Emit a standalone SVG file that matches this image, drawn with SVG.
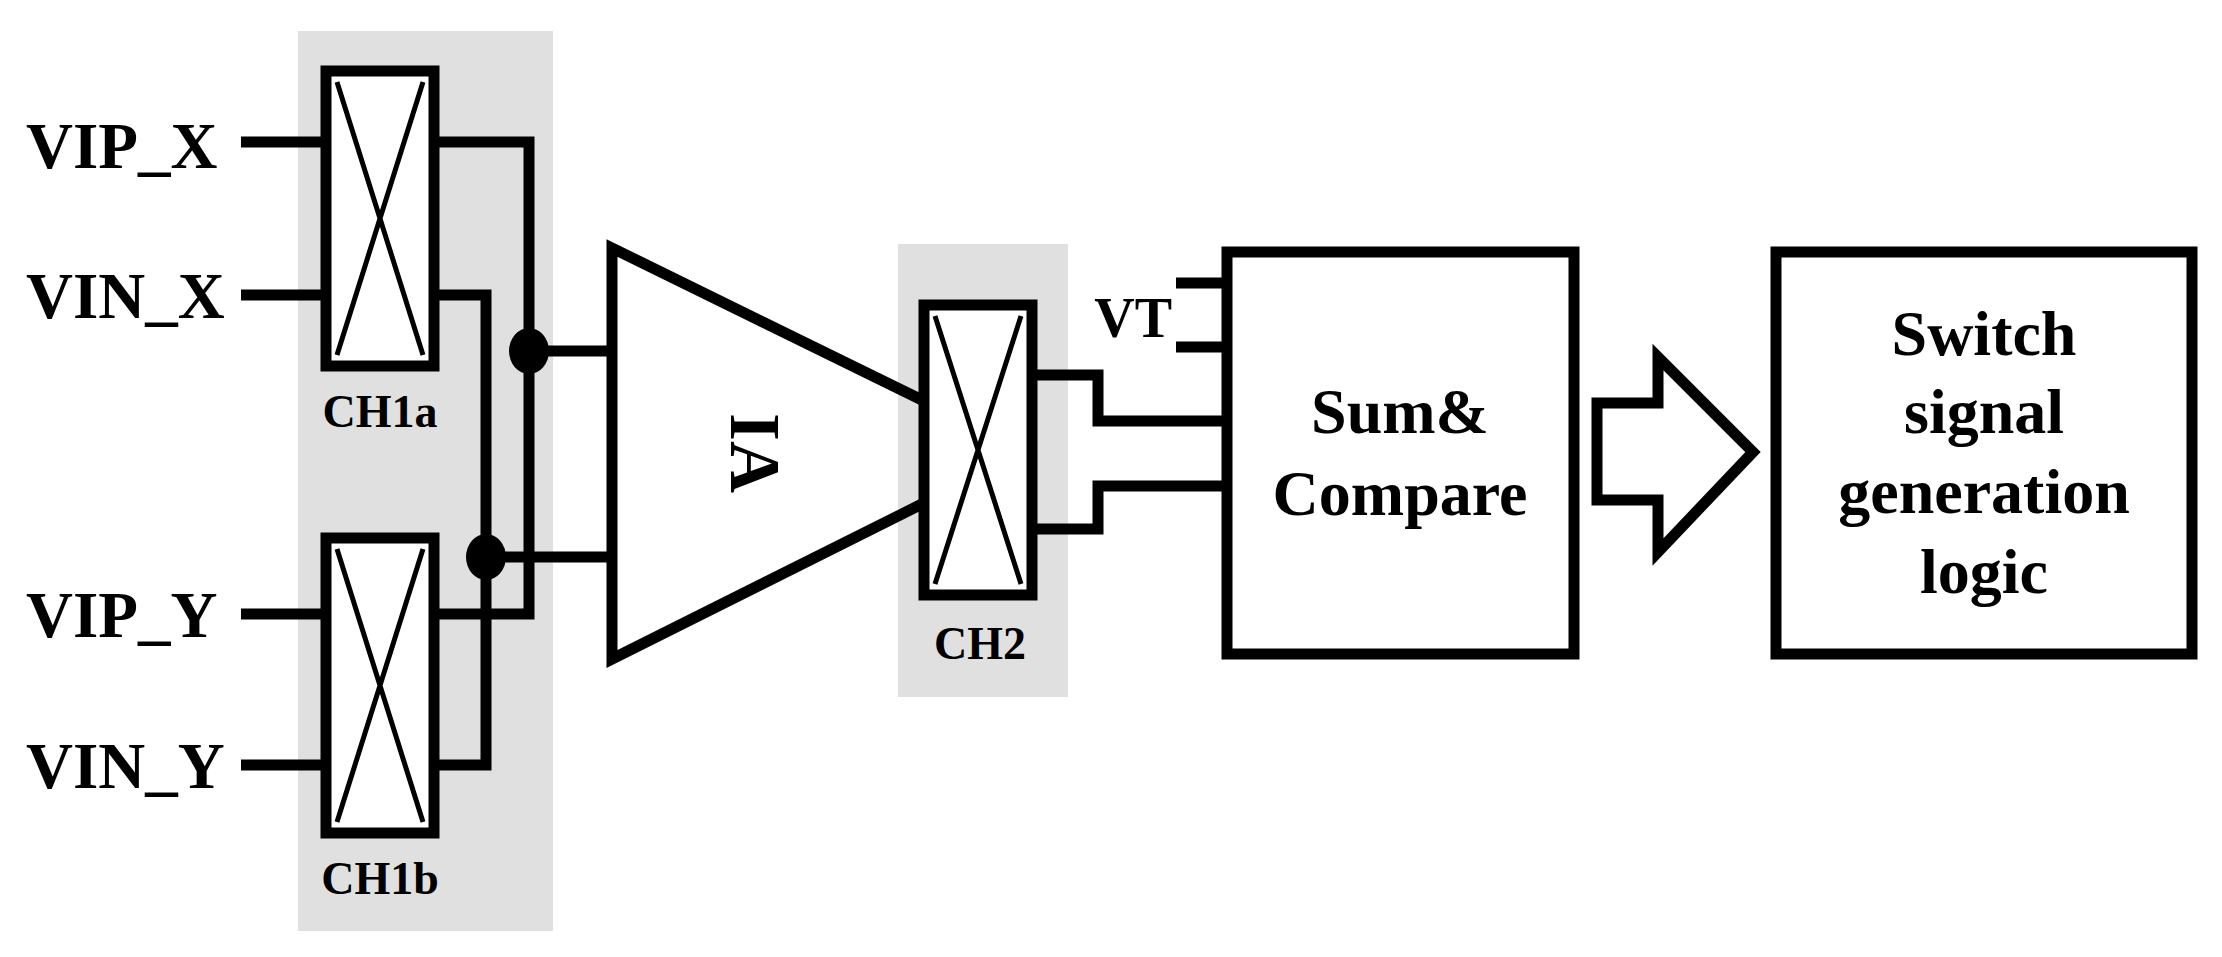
<svg xmlns="http://www.w3.org/2000/svg" width="2222" height="957" viewBox="0 0 2222 957">
<style>
.w{fill:none;stroke:#000;stroke-width:11;stroke-linejoin:miter}
.b{fill:#fff;stroke:#000;stroke-width:11}
.x{fill:none;stroke:#000;stroke-width:5}
.g{fill:#e0e0e0}
.t{font-family:"Liberation Serif",serif;font-weight:bold;fill:#000}
</style>
<rect width="2222" height="957" fill="#fff"/>
<rect class="g" x="298" y="31" width="255" height="900"/>
<rect class="g" x="898" y="244" width="170" height="453"/>
<g id="connectors">
<path class="w" d="M241 142H326M241 295H326M241 614H326M241 765H326"/>
<path class="w" d="M434 142H529V614H434"/>
<path class="w" d="M434 295H486V765H434"/>
<path class="w" d="M529 351H612M486 557H612"/>
<path class="w" d="M1032 375H1098V421H1227M1032 529H1098V486H1227"/>
<path class="w" d="M1176 283H1227M1176 347H1227"/>
<ellipse cx="529" cy="351" rx="20" ry="23"/>
<ellipse cx="486" cy="557" rx="20" ry="23"/>
</g>
<g id="labels" class="t" font-size="65">
<text x="26" y="168">VIP_X</text>
<text x="26" y="318">VIN_X</text>
<text x="26" y="637">VIP_Y</text>
<text x="26" y="788">VIN_Y</text>
</g>
<g id="CH1a"><rect class="b" x="326" y="71" width="108" height="295"/><path class="x" d="M337 82L423 355M423 82L337 355"/><text class="t" x="380" y="427" font-size="46" text-anchor="middle">CH1a</text></g>
<g id="CH1b"><rect class="b" x="326" y="538" width="108" height="295"/><path class="x" d="M337 549L423 822M423 549L337 822"/><text class="t" x="380" y="894" font-size="46" text-anchor="middle">CH1b</text></g>
<g id="IA"><path class="w" d="M924 401L612 248V659L924 503"/><text class="t" font-size="72" text-anchor="middle" transform="translate(731,453) rotate(90)">IA</text></g>
<g id="CH2"><rect class="b" x="924" y="305" width="108" height="290"/><path class="x" d="M935 316L1021 584M1021 316L935 584"/><text class="t" x="980" y="659" font-size="46" text-anchor="middle">CH2</text></g>
<g id="VT"><text class="t" x="1172" y="337" font-size="56" text-anchor="end">VT</text></g>
<g id="sum"><rect class="b" x="1227" y="252" width="347" height="402"/><text class="t" font-size="64" text-anchor="middle"><tspan x="1400" y="433">Sum&amp;</tspan><tspan x="1400" y="515">Compare</tspan></text></g>
<g id="arrow"><path class="b" d="M1597 403H1658V357L1753 452L1658 552V500H1597Z"/></g>
<g id="logic"><rect class="b" x="1776" y="252" width="416" height="402"/><text class="t" font-size="64" text-anchor="middle"><tspan x="1984" y="355">Switch</tspan><tspan x="1984" y="433">signal</tspan><tspan x="1984" y="513">generation</tspan><tspan x="1984" y="593">logic</tspan></text></g>
</svg>
